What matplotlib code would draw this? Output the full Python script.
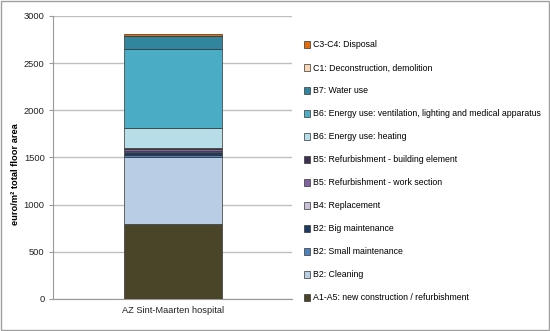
import numpy as np
import matplotlib
matplotlib.use('Agg')
import matplotlib.pyplot as plt
from matplotlib.patches import Rectangle

plt.rcParams['font.family'] = ['Liberation Sans', 'DejaVu Sans']

# stacked components, bottom to top
categories = ['AZ Sint-Maarten hospital']
labels = [
    'A1-A5: new construction / refurbishment',
    'B2: Cleaning',
    'B2: Small maintenance',
    'B2: Big maintenance',
    'B4: Replacement',
    'B5: Refurbishment - work section',
    'B5: Refurbishment - building element',
    'B6: Energy use: heating',
    'B6: Energy use: ventilation, lighting and medical apparatus',
    'B7: Water use',
    'C1: Deconstruction, demolition',
    'C3-C4: Disposal',
]
values = [800, 702, 25, 35, 10, 18, 12, 213, 832, 140, 5, 12]
colors = ['#4a4529', '#b9cde5', '#4f81bd', '#1f3a60', '#ccc1da', '#8064a2',
          '#403152', '#b7dee8', '#4bacc6', '#31859c', '#fcd5b5', '#e46c0a']
yticks = [0, 500, 1000, 1500, 2000, 2500, 3000]

fig = plt.figure(figsize=(5.5, 3.31), dpi=100)
ax = fig.add_axes([0.0964, 0.0967, 0.435, 0.855])

x = np.arange(len(categories))
bottom = np.zeros(len(categories))
handles = []
for lab, v, c in zip(labels, values, colors):
    b = ax.bar(x, [v], bottom=bottom, width=0.41, color=c, edgecolor='#333333',
               linewidth=0.5, label=lab, zorder=3)
    handles.append(b)
    bottom += v

ax.set_xlim(-0.5, 0.5)
ax.set_ylim(0, 3000)
ax.set_yticks(yticks)
ax.set_yticklabels([str(t) for t in yticks], fontsize=6.7, color='#222222')
ax.set_xticks(x)
ax.set_xticklabels(categories, fontsize=6.7, color='#222222')
ax.tick_params(axis='y', length=3, color='#999999', pad=3)
ax.tick_params(axis='x', length=0, pad=5)
ax.yaxis.grid(True, color='#c0c0c0', linewidth=1, zorder=0)
for s in ['top', 'right']:
    ax.spines[s].set_visible(False)
ax.spines['left'].set_color('#999999')
ax.spines['bottom'].set_color('#999999')
ax.set_ylabel('euro/m² total floor area', fontsize=6.7, fontweight='bold')
ax.yaxis.set_label_coords(-0.14, 0.44)

leg = fig.legend(handles[::-1], labels[::-1], loc='upper left',
                 bbox_to_anchor=(0.552, 0.878), frameon=False, fontsize=6.3,
                 handlelength=0.75, handleheight=0.75, handletextpad=0.3,
                 labelspacing=1.6, borderaxespad=0, borderpad=0)
for h in leg.legend_handles:
    h.set_linewidth(0.5)

fig.patches.append(Rectangle((0.001, 0.002), 0.997, 0.995, transform=fig.transFigure,
                             fill=False, edgecolor='#a0a0a0', linewidth=1))

fig.savefig('out.png', dpi=100)
